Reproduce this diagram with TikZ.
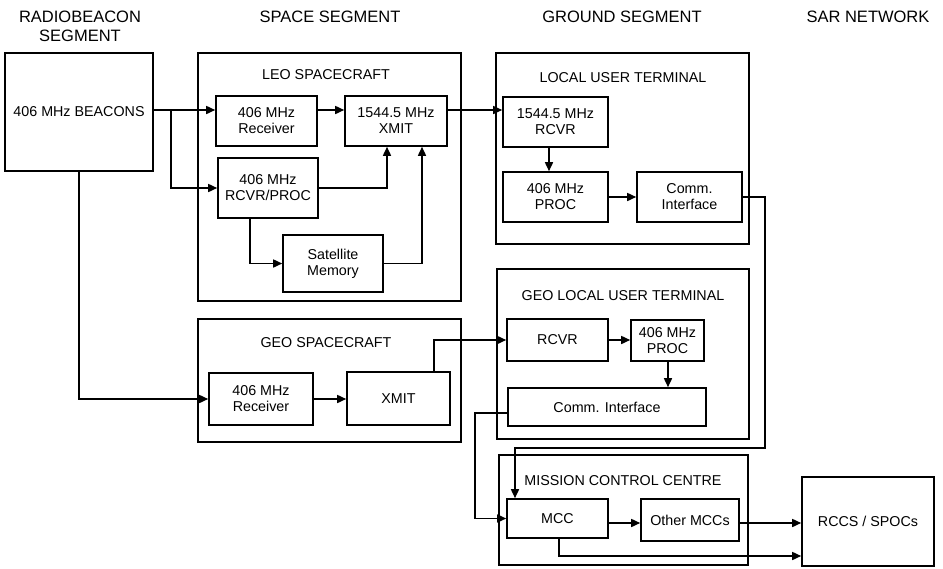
\documentclass[tikz,border=0pt]{standalone}
\usepackage{fontspec}
\setmainfont{Liberation Sans}
\usetikzlibrary{arrows.meta}
\begin{document}
\begin{tikzpicture}[x=1pt,y=-1pt,
 box/.style={draw, line width=1.6pt, inner sep=0pt, align=center, font=\fontsize{14.3}{16}\selectfont},
 grp/.style={draw, line width=1.6pt, inner sep=0pt},
 ttl/.style={font=\fontsize{14.3}{16}\selectfont, inner sep=0pt, text height=10.5pt, text depth=0pt},
 hdr/.style={font=\fontsize{16.5}{19}\selectfont, inner sep=0pt, align=center},
 arr/.style={line width=1.6pt, -{Triangle[length=9pt,width=8pt]}},
 ln/.style={line width=1.6pt}]
\useasboundingbox (0,0) rectangle (943,568);
% headers
\node[hdr] (h1) at (80,26) {RADIOBEACON\\SEGMENT};
\node[hdr] (h2) at (330,17) {SPACE SEGMENT};
\node[hdr] (h3) at (622,17) {GROUND SEGMENT};
\node[hdr] (h4) at (868,17) {SAR NETWORK};
% group boxes
\node[grp, minimum width=263, minimum height=248] (leo) at (329.5,177) {};
\node[grp, minimum width=263, minimum height=123] (geo) at (329.5,380.5) {};
\node[grp, minimum width=253, minimum height=191] (lut) at (622.5,148.5) {};
\node[grp, minimum width=252, minimum height=170] (glut) at (623,354) {};
\node[grp, minimum width=249, minimum height=110] (mccg) at (623.5,510) {};
\node[ttl] (tleo) at (326,74) {LEO SPACECRAFT};
\node[ttl] (tgeo) at (326,342) {GEO SPACECRAFT};
\node[ttl] (tlut) at (623,77) {LOCAL USER TERMINAL};
\node[ttl] (tglut) at (623,295) {GEO LOCAL USER TERMINAL};
\node[ttl] (tmcc) at (623,480) {MISSION CONTROL CENTRE};
% boxes
\node[box, minimum width=148, minimum height=118] (beacons) at (79,112) {406 MHz BEACONS};
\node[box, minimum width=101, minimum height=50] (rx) at (266.5,121) {406 MHz\\Receiver};
\node[box, minimum width=102, minimum height=50] (xmit) at (396,121) {1544.5 MHz\\XMIT};
\node[box, minimum width=100, minimum height=60] (rp) at (268,188) {406 MHz\\RCVR/PROC};
\node[box, minimum width=100, minimum height=57] (mem) at (333,263.5) {Satellite\\Memory};
\node[box, minimum width=104, minimum height=52] (grx) at (261,399) {406 MHz\\Receiver};
\node[box, minimum width=103, minimum height=53] (gxmit) at (398.5,398.5) {XMIT};
\node[box, minimum width=105, minimum height=50] (lrcvr) at (555.5,122) {1544.5 MHz\\RCVR};
\node[box, minimum width=105, minimum height=50] (lproc) at (555.5,197) {406 MHz\\PROC};
\node[box, minimum width=105, minimum height=50] (lcomm) at (689.5,197) {Comm.\\Interface};
\node[box, minimum width=101, minimum height=42] (grcvr) at (557.5,340) {RCVR};
\node[box, minimum width=73, minimum height=41] (gproc) at (667.5,340.5) {406 MHz\\PROC};
\node[box, minimum width=198, minimum height=38] (gcomm) at (607,407) {Comm. Interface};
\node[box, minimum width=101, minimum height=39] (mcc) at (557.5,518.5) {MCC};
\node[box, minimum width=98, minimum height=42] (other) at (690,520) {Other MCCs};
\node[box, minimum width=132, minimum height=89] (rccs) at (868,521.5) {RCCS / SPOCs};
% helper coordinates
\coordinate (ya) at (0,110);
\coordinate (br) at (171,110);
\coordinate (xa) at (387,0);
\coordinate (xb) at (422,0);
\coordinate (xc) at (250,0);
\coordinate (xd) at (434,0);
\coordinate (xe) at (549,0);
\coordinate (pa) at (765,448);
\coordinate (xf) at (515,0);
\coordinate (yc) at (0,413);
\coordinate (xg) at (475,0);
\coordinate (yd) at (0,523);
\coordinate (xh) at (559,0);
\coordinate (ye) at (0,556);
\coordinate (xi) at (668,0);
% connectors
\draw[arr] (beacons.east |- ya) -- (rx.west |- ya);
\draw[arr] (br) |- (rp.west);
\draw[arr] (rx.east |- ya) -- (xmit.west |- ya);
\draw[arr] (rp.east) -| (xa |- xmit.south);
\draw[arr] (mem.east) -| (xb |- xmit.south);
\draw[arr] (xc |- rp.south) |- (mem.west);
\draw[arr] (xmit.east |- ya) -- (lrcvr.west |- ya);
\draw[arr] (beacons.south) |- (grx.west);
\draw[arr] (grx.east) -- (gxmit.west |- grx.east);
\draw[arr] (xd |- gxmit.north) |- (grcvr.west);
\draw[arr] (xe |- lrcvr.south) -- (xe |- lproc.north);
\draw[arr] (lproc.east) -- (lcomm.west);
\draw[arr] (lcomm.east) -| (pa) -| (xf |- mcc.north);
\draw[arr] (grcvr.east) -- (gproc.west |- grcvr.east);
\draw[arr] (xi |- gproc.south) -- (xi |- gcomm.north);
\draw[arr] (gcomm.west |- yc) -| (xg |- mcc.west) -- (mcc.west);
\draw[arr] (mcc.east |- yd) -- (other.west |- yd);
\draw[arr] (other.east |- yd) -- (rccs.west |- yd);
\draw[arr] (xh |- mcc.south) |- (rccs.west |- ye);
\end{tikzpicture}
\end{document}
